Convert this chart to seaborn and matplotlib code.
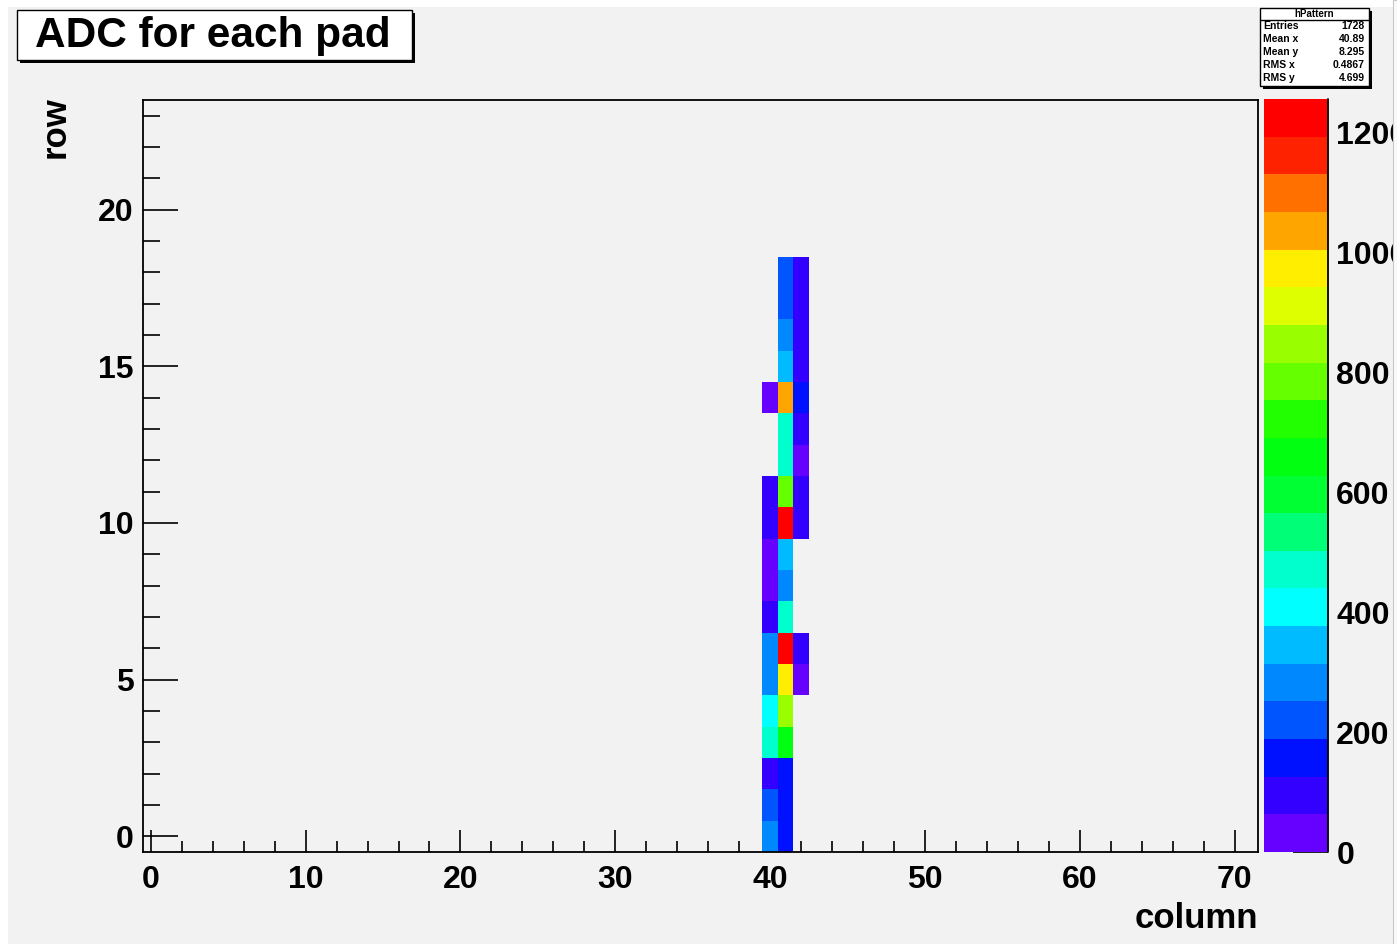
import numpy as np
import pandas as pd
import matplotlib
matplotlib.use("Agg")
import matplotlib.pyplot as plt
from matplotlib.colors import ListedColormap, BoundaryNorm
from matplotlib.patches import Rectangle
import seaborn as sns

# pad grid: 72 columns x 24 rows, only columns 40-42 were hit
n_cols = 72
n_rows = 24
hit_columns = [40, 41, 42]

# ADC per row (row 0 .. row 23) for each hit column, 0 = empty pad
adc_col40 = [283, 220, 95, 471, 408, 283, 283, 95, 30, 30, 95, 95,
             0, 0, 30, 0, 0, 0, 0, 0, 0, 0, 0, 0]
adc_col41 = [157, 157, 157, 660, 848, 973, 1250, 471, 283, 345, 1224, 785,
             471, 471, 1036, 345, 283, 220, 220, 0, 0, 0, 0, 0]
adc_col42 = [0, 0, 0, 0, 0, 30, 95, 0, 0, 0, 95, 95,
             30, 95, 157, 95, 95, 95, 95, 0, 0, 0, 0, 0]

z_max = 1256
palette_colors = ["#6600ff", "#3300ff", "#0011ff", "#0055ff", "#0088ff",
                  "#00bbff", "#00ffff", "#00ffcc", "#00ff77", "#00ff33",
                  "#00ff11", "#22ff00", "#66ff00", "#99ff00", "#ddff00",
                  "#ffee00", "#ffa500", "#ff7000", "#ff2200", "#ff0000"]
cbar_ticks = [0, 200, 400, 600, 800, 1000, 1200]

stats_names = ["Entries", "Mean x", "Mean y", "RMS x", "RMS y"]
stats_values = ["1728", "40.89", "8.295", "0.4867", "4.699"]

grid = np.zeros((n_rows, n_cols))
for col, vals in zip(hit_columns, [adc_col40, adc_col41, adc_col42]):
    grid[:, col] = vals
df = pd.DataFrame(grid, index=range(n_rows), columns=range(n_cols))

sns.set_style("white")
plt.rcParams["font.family"] = ["Liberation Sans", "DejaVu Sans"]
plt.rcParams["font.weight"] = "bold"
plt.rcParams["text.color"] = "black"
plt.rcParams["xtick.color"] = "black"
plt.rcParams["ytick.color"] = "black"
plt.rcParams["axes.labelcolor"] = "black"

W, H = 1397, 944
fig = plt.figure(figsize=(W / 100, H / 100), dpi=100, facecolor="white")


def fx(px):
    return px / W


def fy(py):
    return 1 - py / H


# canvas background
fig.add_artist(Rectangle((fx(8), 0), fx(1393) - fx(8), fy(7), transform=fig.transFigure,
                         facecolor="#f2f2f2", edgecolor="none", zorder=-5))

ax = fig.add_axes([fx(143), fy(852), fx(1258) - fx(143), fy(100) - fy(852)])
cax = fig.add_axes([fx(1264), fy(852), fx(1328) - fx(1264), fy(99) - fy(852)])
ax.set_facecolor("#f2f2f2")

cmap = ListedColormap(palette_colors)
norm = BoundaryNorm(np.linspace(0, z_max, len(palette_colors) + 1), len(palette_colors))

sns.heatmap(df, mask=(df == 0), cmap=cmap, norm=norm, ax=ax, cbar_ax=cax,
            xticklabels=False, yticklabels=False, linewidths=0)
ax.set_ylim(0, n_rows)
ax.set_xlim(0, n_cols)

for sp in ax.spines.values():
    sp.set_visible(True)
    sp.set_color("black")
    sp.set_linewidth(1.3)

ax.set_xticks([v + 0.5 for v in range(0, 71, 10)])
ax.set_xticklabels([str(v) for v in range(0, 71, 10)])
ax.set_xticks([v + 0.5 for v in range(0, 72, 2) if v % 10], minor=True)
ax.set_yticks([v + 0.5 for v in range(0, 21, 5)])
ax.set_yticklabels([str(v) for v in range(0, 21, 5)], rotation=0)
ax.set_yticks([v + 0.5 for v in range(0, 24) if v % 5], minor=True)

ax.tick_params(axis="x", which="major", direction="in", length=16, width=1.2,
               labelsize=23, pad=9, bottom=True, top=False, colors="black")
ax.tick_params(axis="x", which="minor", direction="in", length=8, width=1.2,
               bottom=True, top=False, colors="black")
ax.tick_params(axis="y", which="major", direction="in", length=25, width=1.2,
               labelsize=23, pad=7, left=True, right=False, colors="black")
ax.tick_params(axis="y", which="minor", direction="in", length=12.5, width=1.2,
               left=True, right=False, colors="black")
ax.set_xlabel("")
ax.set_ylabel("")

cbar = ax.collections[0].colorbar
cbar.outline.set_visible(False)
cbar.set_ticks(cbar_ticks)
cbar.set_ticklabels([str(t) for t in cbar_ticks])
cax.minorticks_off()
cax.tick_params(axis="y", which="both", direction="in", length=25, width=1.2, labelsize=23,
                pad=6, right=True, left=False, colors="black")
cax.tick_params(axis="y", which="minor", length=0)
cax.plot([1, 1], [0, 1], transform=cax.transAxes, color="black", lw=1.3, clip_on=False)

# axis titles
fig.text(fx(1258), fy(918), "column", ha="right", va="center", fontsize=25, fontweight="bold")
fig.text(fx(55), fy(96), "row", ha="center", va="top", rotation=90, fontsize=25,
         fontweight="bold")

# title box with shadow
fig.add_artist(Rectangle((fx(20), fy(63)), fx(415) - fx(20), fy(13) - fy(63),
                         transform=fig.transFigure, facecolor="black", edgecolor="none", zorder=3))
fig.add_artist(Rectangle((fx(17), fy(60)), fx(412) - fx(17), fy(10) - fy(60),
                         transform=fig.transFigure, facecolor="white", edgecolor="black",
                         lw=1.0, zorder=4))
fig.text(fx(213), fy(36), "ADC for each pad", ha="center", va="center", fontsize=30.5,
         fontweight="bold", zorder=5)

# stats box with shadow
fig.add_artist(Rectangle((fx(1263), fy(89)), fx(1372) - fx(1263), fy(11) - fy(89),
                         transform=fig.transFigure, facecolor="black", edgecolor="none", zorder=3))
fig.add_artist(Rectangle((fx(1260), fy(86)), fx(1369) - fx(1260), fy(8) - fy(86),
                         transform=fig.transFigure, facecolor="white", edgecolor="black",
                         lw=1.0, zorder=4))
fig.add_artist(plt.Line2D([fx(1260), fx(1369)], [fy(20), fy(20)], transform=fig.transFigure,
                          color="black", lw=1.0, zorder=5))
fig.text(fx(1314), fy(14), "hPattern", ha="center", va="center", fontsize=7,
         fontweight="bold", zorder=5)
for i, (name, val) in enumerate(zip(stats_names, stats_values)):
    y = fy(26 + 13 * i)
    fig.text(fx(1263), y, name, ha="left", va="center", fontsize=7.5, fontweight="bold", zorder=5)
    fig.text(fx(1365), y, val, ha="right", va="center", fontsize=7.5, fontweight="bold", zorder=5)

# right canvas edge clips the palette labels
fig.add_artist(Rectangle((fx(1393), 0), 1 - fx(1393), 1, transform=fig.transFigure,
                         facecolor="#fafafa", edgecolor="#c8c8c8", lw=0.8, zorder=20))

fig.savefig("out.png", dpi=100)
